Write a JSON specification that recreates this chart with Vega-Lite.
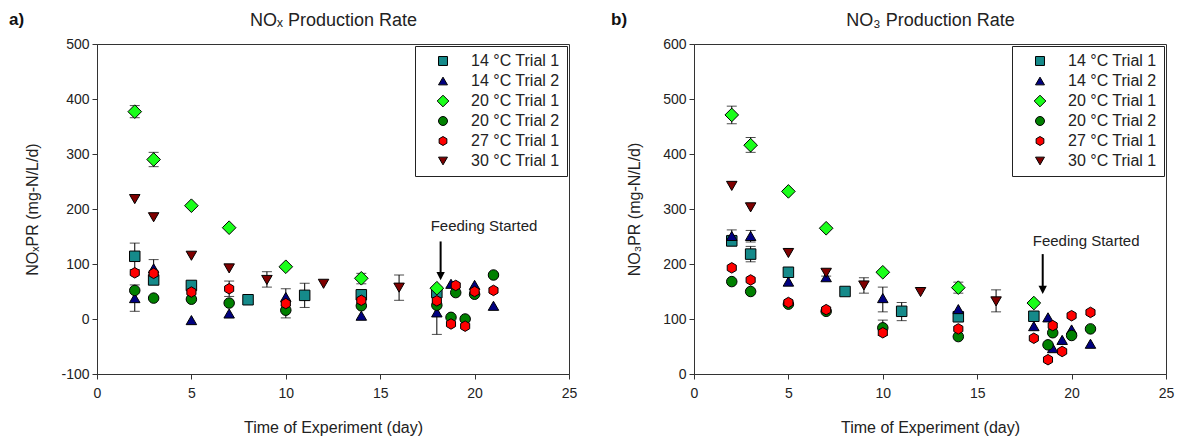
{
  "$schema": "https://vega.github.io/schema/vega-lite/v6.json",
  "padding": {"left": 8, "top": 10, "right": 5, "bottom": 0},
  "config": {
    "font": "Liberation Sans",
    "view": {"stroke": "#333", "strokeWidth": 1},
    "axis": {"grid": false, "domainColor": "#333", "tickColor": "#333", "labelColor": "#222", "titleColor": "#222", "labelFontSize": 14, "titleFontSize": 16, "titleFontWeight": "normal", "tickSize": 5, "labelPadding": 3, "labelFlush": false, "labelExpr": "replace(datum.label, '−', '-')"},
    "legend": {"orient": "top-right", "offset": 2, "strokeColor": "#222", "strokeWidth": 1, "fillColor": "white", "padding": 7, "labelFontSize": 16, "labelColor": "#222", "symbolSize": 80, "symbolOffset": 13, "labelOffset": 20, "rowPadding": 4, "symbolStrokeColor": "black", "symbolStrokeWidth": 1}
  },
  "datasets": {
    "nox": [
      {"s": "14 °C Trial 1", "d": 2, "v": 114}, {"s": "14 °C Trial 1", "d": 3, "v": 71}, {"s": "14 °C Trial 1", "d": 5, "v": 61}, {"s": "14 °C Trial 1", "d": 8, "v": 35}, {"s": "14 °C Trial 1", "d": 11, "v": 43}, {"s": "14 °C Trial 1", "d": 14, "v": 44}, {"s": "14 °C Trial 1", "d": 18, "v": 48},
      {"s": "14 °C Trial 2", "d": 2, "v": 38}, {"s": "14 °C Trial 2", "d": 3, "v": 92}, {"s": "14 °C Trial 2", "d": 5, "v": -2}, {"s": "14 °C Trial 2", "d": 7, "v": 10}, {"s": "14 °C Trial 2", "d": 10, "v": 40}, {"s": "14 °C Trial 2", "d": 14, "v": 6}, {"s": "14 °C Trial 2", "d": 18, "v": 12}, {"s": "14 °C Trial 2", "d": 18.75, "v": 64}, {"s": "14 °C Trial 2", "d": 20, "v": 62}, {"s": "14 °C Trial 2", "d": 21, "v": 24},
      {"s": "20 °C Trial 1", "d": 2, "v": 377}, {"s": "20 °C Trial 1", "d": 3, "v": 290}, {"s": "20 °C Trial 1", "d": 5, "v": 206}, {"s": "20 °C Trial 1", "d": 7, "v": 166}, {"s": "20 °C Trial 1", "d": 10, "v": 95}, {"s": "20 °C Trial 1", "d": 14, "v": 74}, {"s": "20 °C Trial 1", "d": 18, "v": 56},
      {"s": "20 °C Trial 2", "d": 2, "v": 52}, {"s": "20 °C Trial 2", "d": 3, "v": 38}, {"s": "20 °C Trial 2", "d": 5, "v": 36}, {"s": "20 °C Trial 2", "d": 7, "v": 29}, {"s": "20 °C Trial 2", "d": 10, "v": 16}, {"s": "20 °C Trial 2", "d": 14, "v": 24}, {"s": "20 °C Trial 2", "d": 18, "v": 25}, {"s": "20 °C Trial 2", "d": 18.75, "v": 3}, {"s": "20 °C Trial 2", "d": 19, "v": 48}, {"s": "20 °C Trial 2", "d": 19.5, "v": 0}, {"s": "20 °C Trial 2", "d": 20, "v": 45}, {"s": "20 °C Trial 2", "d": 21, "v": 80},
      {"s": "27 °C Trial 1", "d": 2, "v": 84}, {"s": "27 °C Trial 1", "d": 3, "v": 83}, {"s": "27 °C Trial 1", "d": 5, "v": 49}, {"s": "27 °C Trial 1", "d": 7, "v": 55}, {"s": "27 °C Trial 1", "d": 10, "v": 28}, {"s": "27 °C Trial 1", "d": 14, "v": 34}, {"s": "27 °C Trial 1", "d": 18, "v": 33}, {"s": "27 °C Trial 1", "d": 18.75, "v": -9}, {"s": "27 °C Trial 1", "d": 19, "v": 61}, {"s": "27 °C Trial 1", "d": 19.5, "v": -13}, {"s": "27 °C Trial 1", "d": 20, "v": 50}, {"s": "27 °C Trial 1", "d": 21, "v": 52},
      {"s": "30 °C Trial 1", "d": 2, "v": 218}, {"s": "30 °C Trial 1", "d": 3, "v": 185}, {"s": "30 °C Trial 1", "d": 5, "v": 115}, {"s": "30 °C Trial 1", "d": 7, "v": 92}, {"s": "30 °C Trial 1", "d": 9, "v": 71}, {"s": "30 °C Trial 1", "d": 12, "v": 64}, {"s": "30 °C Trial 1", "d": 16, "v": 57}
    ],
    "noxErr": [
      {"d": 2, "lo": 366, "hi": 388}, {"d": 3, "lo": 277, "hi": 303}, {"d": 2, "lo": 90, "hi": 138}, {"d": 2, "lo": 14, "hi": 62}, {"d": 3, "lo": 77, "hi": 108}, {"d": 7, "lo": 41, "hi": 69}, {"d": 9, "lo": 58, "hi": 86}, {"d": 10, "lo": 25, "hi": 55}, {"d": 10, "lo": 2, "hi": 30}, {"d": 11, "lo": 21, "hi": 65}, {"d": 14, "lo": 64, "hi": 83}, {"d": 16, "lo": 34, "hi": 80}, {"d": 18, "lo": -28, "hi": 52}
    ],
    "no3": [
      {"s": "14 °C Trial 1", "d": 2, "v": 242}, {"s": "14 °C Trial 1", "d": 3, "v": 218}, {"s": "14 °C Trial 1", "d": 5, "v": 185}, {"s": "14 °C Trial 1", "d": 8, "v": 150}, {"s": "14 °C Trial 1", "d": 11, "v": 114}, {"s": "14 °C Trial 1", "d": 14, "v": 104}, {"s": "14 °C Trial 1", "d": 18, "v": 105},
      {"s": "14 °C Trial 2", "d": 2, "v": 251}, {"s": "14 °C Trial 2", "d": 3, "v": 251}, {"s": "14 °C Trial 2", "d": 5, "v": 168}, {"s": "14 °C Trial 2", "d": 7, "v": 176}, {"s": "14 °C Trial 2", "d": 10, "v": 138}, {"s": "14 °C Trial 2", "d": 14, "v": 118}, {"s": "14 °C Trial 2", "d": 18, "v": 87}, {"s": "14 °C Trial 2", "d": 18.75, "v": 103}, {"s": "14 °C Trial 2", "d": 19, "v": 47}, {"s": "14 °C Trial 2", "d": 19.5, "v": 62}, {"s": "14 °C Trial 2", "d": 20, "v": 81}, {"s": "14 °C Trial 2", "d": 21, "v": 55},
      {"s": "20 °C Trial 1", "d": 2, "v": 471}, {"s": "20 °C Trial 1", "d": 3, "v": 416}, {"s": "20 °C Trial 1", "d": 5, "v": 332}, {"s": "20 °C Trial 1", "d": 7, "v": 265}, {"s": "20 °C Trial 1", "d": 10, "v": 185}, {"s": "20 °C Trial 1", "d": 14, "v": 157}, {"s": "20 °C Trial 1", "d": 18, "v": 129},
      {"s": "20 °C Trial 2", "d": 2, "v": 168}, {"s": "20 °C Trial 2", "d": 3, "v": 150}, {"s": "20 °C Trial 2", "d": 5, "v": 127}, {"s": "20 °C Trial 2", "d": 7, "v": 114}, {"s": "20 °C Trial 2", "d": 10, "v": 84}, {"s": "20 °C Trial 2", "d": 14, "v": 68}, {"s": "20 °C Trial 2", "d": 18.75, "v": 53}, {"s": "20 °C Trial 2", "d": 19, "v": 75}, {"s": "20 °C Trial 2", "d": 20, "v": 70}, {"s": "20 °C Trial 2", "d": 21, "v": 82},
      {"s": "27 °C Trial 1", "d": 2, "v": 193}, {"s": "27 °C Trial 1", "d": 3, "v": 171}, {"s": "27 °C Trial 1", "d": 5, "v": 130}, {"s": "27 °C Trial 1", "d": 7, "v": 117}, {"s": "27 °C Trial 1", "d": 10, "v": 75}, {"s": "27 °C Trial 1", "d": 14, "v": 82}, {"s": "27 °C Trial 1", "d": 18, "v": 65}, {"s": "27 °C Trial 1", "d": 18.75, "v": 26}, {"s": "27 °C Trial 1", "d": 19, "v": 88}, {"s": "27 °C Trial 1", "d": 19.5, "v": 41}, {"s": "27 °C Trial 1", "d": 20, "v": 106}, {"s": "27 °C Trial 1", "d": 21, "v": 112},
      {"s": "30 °C Trial 1", "d": 2, "v": 342}, {"s": "30 °C Trial 1", "d": 3, "v": 303}, {"s": "30 °C Trial 1", "d": 5, "v": 220}, {"s": "30 °C Trial 1", "d": 7, "v": 184}, {"s": "30 °C Trial 1", "d": 9, "v": 161}, {"s": "30 °C Trial 1", "d": 12, "v": 149}, {"s": "30 °C Trial 1", "d": 16, "v": 132}
    ],
    "no3Err": [
      {"d": 2, "lo": 455, "hi": 487}, {"d": 3, "lo": 403, "hi": 430}, {"d": 2, "lo": 240, "hi": 262}, {"d": 2, "lo": 233, "hi": 252}, {"d": 3, "lo": 240, "hi": 261}, {"d": 3, "lo": 204, "hi": 232}, {"d": 7, "lo": 178, "hi": 190}, {"d": 9, "lo": 147, "hi": 175}, {"d": 10, "lo": 113, "hi": 158}, {"d": 10, "lo": 70, "hi": 98}, {"d": 11, "lo": 97, "hi": 130}, {"d": 14, "lo": 147, "hi": 167}, {"d": 16, "lo": 113, "hi": 153}
    ]
  },
  "spacing": 32,
  "resolve": {"scale": {"color": "independent", "shape": "independent"}},
  "hconcat": [
    {
      "width": 472,
      "height": 330,
      "title": {"text": "a)", "anchor": "start", "frame": "group", "fontSize": 17, "fontWeight": "bold", "color": "#111", "dx": -88, "dy": 22},
      "layer": [
        {
          "data": {"name": "noxErr"},
          "mark": {"type": "errorbar", "color": "black", "thickness": 1, "ticks": {"size": 10}},
          "encoding": {
            "x": {"field": "d", "type": "quantitative", "scale": {"domain": [0, 25], "nice": false}, "axis": {"orient": "top", "title": "NOₓ Production Rate", "labels": false, "ticks": false, "domain": false, "titleFontSize": 18, "titlePadding": 15}},
            "y": {"field": "lo", "type": "quantitative", "title": "NOₓPR (mg-N/L/d)", "scale": {"domain": [-100, 500], "nice": false}},
            "y2": {"field": "hi"}
          }
        },
        {
          "data": {"name": "nox"},
          "mark": {"type": "point", "filled": true, "stroke": "black", "strokeWidth": 1, "size": 110, "opacity": 1},
          "encoding": {
            "x": {"field": "d", "type": "quantitative", "axis": {"orient": "bottom", "title": "Time of Experiment (day)", "values": [0, 5, 10, 15, 20, 25], "labelPadding": 7, "titlePadding": 19}},
            "y": {"field": "v", "type": "quantitative", "title": "NOₓPR (mg-N/L/d)", "axis": {"values": [-100, 0, 100, 200, 300, 400, 500], "titlePadding": 20}},
            "color": {"field": "s", "type": "nominal", "scale": {"domain": ["14 °C Trial 1", "14 °C Trial 2", "20 °C Trial 1", "20 °C Trial 2", "27 °C Trial 1", "30 °C Trial 1"], "range": ["#158a8a", "#000080", "#1aff1a", "#008000", "#ff0000", "#800000"]}, "legend": {"title": null}},
            "shape": {"field": "s", "type": "nominal", "scale": {"domain": ["14 °C Trial 1", "14 °C Trial 2", "20 °C Trial 1", "20 °C Trial 2", "27 °C Trial 1", "30 °C Trial 1"], "range": ["square", "triangle-up", "M0,-1.3L1.3,0L0,1.3L-1.3,0Z", "circle", "M0,-1L0.866,-0.5L0.866,0.5L0,1L-0.866,0.5L-0.866,-0.5Z", "triangle-down"]}, "legend": {"title": null}}
          }
        },
        {
          "data": {"values": [{}]},
          "mark": {"type": "rule", "color": "black", "strokeWidth": 2},
          "encoding": {
            "x": {"datum": 18.2, "type": "quantitative", "axis": null},
            "y": {"datum": 141, "type": "quantitative", "title": "NOₓPR (mg-N/L/d)"},
            "y2": {"datum": 80}
          }
        },
        {
          "data": {"values": [{}]},
          "mark": {"type": "point", "shape": "M-1,-1L1,-1L0,1Z", "filled": true, "color": "black", "size": 70, "opacity": 1},
          "encoding": {
            "x": {"datum": 18.2, "type": "quantitative", "axis": null},
            "y": {"datum": 78, "type": "quantitative", "title": "NOₓPR (mg-N/L/d)"}
          }
        },
        {
          "data": {"values": [{}]},
          "mark": {"type": "text", "text": "Feeding Started", "fontSize": 15, "color": "#222", "align": "center", "baseline": "middle"},
          "encoding": {
            "x": {"datum": 20.5, "type": "quantitative", "axis": null},
            "y": {"datum": 169, "type": "quantitative", "title": "NOₓPR (mg-N/L/d)"}
          }
        }
      ]
    },
    {
      "width": 472,
      "height": 330,
      "title": {"text": "b)", "anchor": "start", "frame": "group", "fontSize": 17, "fontWeight": "bold", "color": "#111", "dx": -83, "dy": 22},
      "layer": [
        {
          "data": {"name": "no3Err"},
          "mark": {"type": "errorbar", "color": "black", "thickness": 1, "ticks": {"size": 10}},
          "encoding": {
            "x": {"field": "d", "type": "quantitative", "scale": {"domain": [0, 25], "nice": false}, "axis": {"orient": "top", "title": "NO₃ Production Rate", "labels": false, "ticks": false, "domain": false, "titleFontSize": 18, "titlePadding": 15}},
            "y": {"field": "lo", "type": "quantitative", "title": "NO₃PR (mg-N/L/d)", "scale": {"domain": [0, 600], "nice": false}},
            "y2": {"field": "hi"}
          }
        },
        {
          "data": {"name": "no3"},
          "mark": {"type": "point", "filled": true, "stroke": "black", "strokeWidth": 1, "size": 110, "opacity": 1},
          "encoding": {
            "x": {"field": "d", "type": "quantitative", "axis": {"orient": "bottom", "title": "Time of Experiment (day)", "values": [0, 5, 10, 15, 20, 25], "labelPadding": 7, "titlePadding": 19}},
            "y": {"field": "v", "type": "quantitative", "title": "NO₃PR (mg-N/L/d)", "axis": {"values": [0, 100, 200, 300, 400, 500, 600], "titlePadding": 20}},
            "color": {"field": "s", "type": "nominal", "scale": {"domain": ["14 °C Trial 1", "14 °C Trial 2", "20 °C Trial 1", "20 °C Trial 2", "27 °C Trial 1", "30 °C Trial 1"], "range": ["#158a8a", "#000080", "#1aff1a", "#008000", "#ff0000", "#800000"]}, "legend": {"title": null}},
            "shape": {"field": "s", "type": "nominal", "scale": {"domain": ["14 °C Trial 1", "14 °C Trial 2", "20 °C Trial 1", "20 °C Trial 2", "27 °C Trial 1", "30 °C Trial 1"], "range": ["square", "triangle-up", "M0,-1.3L1.3,0L0,1.3L-1.3,0Z", "circle", "M0,-1L0.866,-0.5L0.866,0.5L0,1L-0.866,0.5L-0.866,-0.5Z", "triangle-down"]}, "legend": {"title": null}}
          }
        },
        {
          "data": {"values": [{}]},
          "mark": {"type": "rule", "color": "black", "strokeWidth": 2},
          "encoding": {
            "x": {"datum": 18.47, "type": "quantitative", "axis": null},
            "y": {"datum": 218, "type": "quantitative", "title": "NO₃PR (mg-N/L/d)"},
            "y2": {"datum": 155}
          }
        },
        {
          "data": {"values": [{}]},
          "mark": {"type": "point", "shape": "M-1,-1L1,-1L0,1Z", "filled": true, "color": "black", "size": 70, "opacity": 1},
          "encoding": {
            "x": {"datum": 18.47, "type": "quantitative", "axis": null},
            "y": {"datum": 153, "type": "quantitative", "title": "NO₃PR (mg-N/L/d)"}
          }
        },
        {
          "data": {"values": [{}]},
          "mark": {"type": "text", "text": "Feeding Started", "fontSize": 15, "color": "#222", "align": "center", "baseline": "middle"},
          "encoding": {
            "x": {"datum": 20.77, "type": "quantitative", "axis": null},
            "y": {"datum": 242, "type": "quantitative", "title": "NO₃PR (mg-N/L/d)"}
          }
        }
      ]
    }
  ]
}
